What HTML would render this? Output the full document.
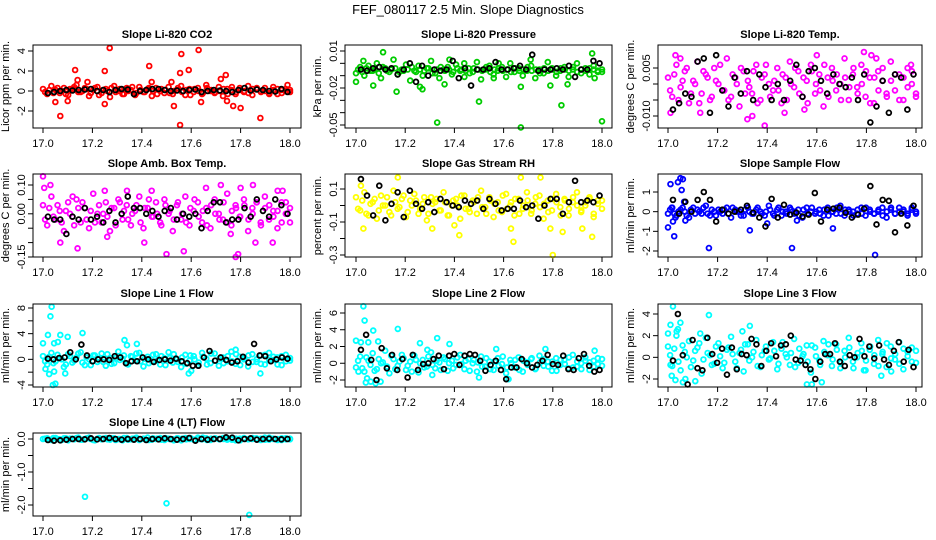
<!DOCTYPE html>
<html><head><meta charset="utf-8">
<style>
html,body{margin:0;padding:0;background:#fff;}
svg{display:block;font-family:"Liberation Sans",sans-serif;}
</style></head>
<body>
<svg id="chart" width="936" height="540" viewBox="0 0 936 540">
<text x="468" y="14" text-anchor="middle" font-size="13">FEF_080117  2.5 Min. Slope Diagnostics</text>
</svg>
<script>
// ---------- data ----------
const co2Band=[0.2,-0.3,0.5,0.1,-0.2,0.3,-0.4,0.2,0.6,-0.1,0.3,-0.5,0.1,0.4,-0.2,0.2,-0.6,0.5,0.0,-0.3,0.3,0.1,-0.4,0.4,-0.1,0.2,-0.5,0.3,0.0,-0.2,0.4,-0.3,0.1,0.5,-0.4,0.2,-0.1,0.3,-0.3,0.6,0.0,-0.2,0.4,-0.5,0.2,0.1,-0.3,0.3,-0.1,0.5,-0.4,0.2,0.0,0.3,-0.2,0.4,-0.3,0.1,0.2,-0.1];
const co2Band2=[-0.1,0.1,-0.2,0.3,0.0,-0.3,0.2,0.4,-0.1,0.0,0.2,-0.2,0.3,-0.4,0.1,0.0,0.3,-0.1,0.2,-0.3,0.0,0.4,-0.2,0.1,-0.1,0.3,0.0,-0.3,0.2,0.1,-0.2,0.0,0.3,-0.1,0.1,-0.4,0.2,0.0,-0.2,0.3,0.1,-0.1,0.0,0.2,-0.3,0.4,-0.1,0.1,0.0,-0.2,0.2,0.3,-0.1,0.0,-0.3,0.1,0.2,-0.2,0.0,0.1];
const co2OutX=[17.05,17.07,17.10,17.13,17.14,17.18,17.25,17.25,17.27,17.43,17.44,17.52,17.53,17.555,17.555,17.56,17.59,17.63,17.64,17.72,17.74,17.745,17.77,17.80,17.88,17.99];
const co2OutY=[-1.1,-2.5,-1.0,2.1,1.1,0.9,2.0,-1.3,4.3,2.5,0.9,0.9,-1.5,-3.4,1.8,3.7,2.1,4.1,-1.1,1.2,1.6,-1.0,-1.5,-1.7,-2.7,0.6];
const co2Black=[-0.2,-0.1,0,0.1,0.05,0.1,0.15,0.2,0,0.1,-0.1,0.1,0.2,0.15,-0.3,0,0.1,0.2,0.2,0.1,0,0.05,0,0.1,0.15,-0.1,0,0.1,0.05,0,-0.1,0.1,0.3,0.05,0.15,0.1,0,-0.05,0.2,-0.1];

const presBand=[-0.008,-0.003,-0.010,-0.002,-0.006,0.000,-0.012,-0.004,-0.007,0.003,-0.009,-0.005,-0.001,-0.014,-0.006,-0.002,-0.010,-0.004,0.002,-0.008,-0.012,-0.005,-0.003,-0.009,-0.001,-0.006,-0.011,-0.004,-0.007,0.001,-0.013,-0.005,-0.002,-0.009,-0.006,-0.003,-0.011,0.000,-0.007,-0.004,-0.010,-0.006,-0.002,-0.012,-0.005,-0.008,0.001,-0.004,-0.010,-0.006,-0.003,-0.011,-0.005,0.000,-0.008,-0.004,-0.009,-0.002,-0.006,-0.007];
const presBand2=[-0.005,-0.007,-0.004,-0.006,-0.005,-0.008,-0.003,-0.006,-0.005,-0.004,-0.007,-0.006,-0.005,-0.003,-0.007,-0.005,-0.006,-0.004,-0.008,-0.005,-0.003,-0.006,-0.005,-0.007,-0.004,-0.005,-0.006,-0.008,-0.004,-0.005,-0.006,-0.003,-0.007,-0.005,-0.004,-0.006,-0.005,-0.007,-0.004,-0.006,-0.005,-0.003,-0.006,-0.005,-0.008,-0.004,-0.006,-0.005,-0.007,-0.004,-0.005,-0.006,-0.003,-0.007,-0.005,-0.006,-0.004,-0.005,-0.007,-0.005];
const presOutX=[17.0,17.03,17.07,17.11,17.165,17.26,17.27,17.33,17.36,17.38,17.44,17.50,17.56,17.58,17.67,17.67,17.71,17.79,17.835,17.86,17.96,17.97,18.0];
const presOutY=[-0.015,0.002,-0.018,0.009,-0.023,-0.019,-0.021,-0.048,-0.017,0.003,0.0,-0.031,-0.012,0.0,-0.052,-0.019,0.003,-0.018,-0.034,-0.017,0.008,-0.012,-0.047];
const presBlack=[-0.005,-0.006,-0.004,-0.003,-0.005,-0.004,-0.009,-0.005,0.000,-0.015,-0.002,-0.010,-0.005,-0.006,-0.005,0.002,-0.012,-0.004,-0.018,-0.005,-0.005,-0.004,0.001,-0.005,-0.005,-0.004,-0.002,-0.005,0.007,-0.006,-0.005,-0.005,-0.004,-0.005,-0.002,-0.011,-0.005,-0.005,0.002,0.000];

const tempBand=[0.002,-0.004,0.006,-0.001,0.004,-0.006,0.001,0.007,-0.003,0.003,-0.005,0.005,0.000,-0.002,0.008,-0.004,0.002,-0.007,0.004,0.001,-0.003,0.006,-0.005,0.003,0.000,-0.002,0.005,-0.006,0.002,0.007,-0.001,0.004,-0.004,0.001,0.006,-0.003,0.003,-0.007,0.002,0.005,-0.002,0.000,0.008,-0.005,0.003,-0.001,0.006,-0.004,0.002,-0.006,0.004,0.001,-0.003,0.007,-0.002,0.003,-0.005,0.005,0.000,-0.004];
const tempBand2=[-0.002,0.003,-0.005,0.001,0.005,-0.003,0.000,-0.006,0.004,0.002,-0.004,0.001,0.006,-0.002,-0.005,0.003,0.000,0.005,-0.003,-0.001,0.004,-0.006,0.002,0.006,-0.004,0.001,-0.002,0.003,-0.005,0.000,0.005,-0.003,0.002,-0.006,0.004,0.000,-0.002,0.006,-0.004,0.001,0.003,-0.005,0.002,-0.001,0.005,-0.003,0.000,0.004,-0.006,0.002,-0.002,0.005,-0.004,0.001,0.003,-0.005,0.002,-0.001,0.004,-0.003];
const tempOutX=[17.01,17.03,17.05,17.13,17.32,17.34,17.39,17.47,17.55,17.6,17.79,17.82,17.84,17.98];
const tempOutY=[-0.009,0.009,0.008,-0.009,-0.011,-0.010,-0.013,-0.009,-0.008,0.009,0.010,0.009,0.008,0.006];
const tempBlack=[-0.008,-0.006,-0.003,-0.004,0.007,0.008,-0.009,0.009,-0.002,-0.007,0.002,-0.003,0.004,-0.005,0.003,-0.001,-0.005,0.000,-0.005,0.001,0.006,-0.004,0.004,0.005,0.001,-0.003,0.003,0.000,-0.001,0.002,-0.005,0.003,-0.012,-0.007,0.001,-0.009,0.003,0.002,-0.008,0.003];

const ambBand=[0.03,-0.04,0.06,-0.02,0.01,-0.06,0.04,-0.01,0.05,-0.03,0.02,-0.05,0.07,0.00,-0.03,0.04,-0.06,0.02,0.05,-0.02,0.03,-0.04,0.01,0.06,-0.05,0.02,-0.01,0.04,-0.03,0.05,0.00,-0.06,0.03,-0.02,0.06,-0.04,0.01,0.04,-0.03,0.02,-0.05,0.05,0.00,-0.02,0.07,-0.04,0.03,-0.01,0.05,-0.06,0.02,0.04,-0.03,0.06,-0.02,0.01,-0.05,0.04,0.00,-0.03];
const ambBand2=[-0.02,0.02,-0.01,0.03,-0.03,0.01,0.00,-0.04,0.02,0.04,-0.02,0.01,-0.03,0.03,0.00,-0.01,0.02,-0.04,0.04,0.01,-0.02,0.00,0.03,-0.03,0.02,0.05,-0.01,0.00,-0.04,0.03,0.01,-0.02,0.04,0.00,-0.03,0.02,0.05,-0.01,0.01,-0.04,0.03,0.00,-0.02,0.04,-0.03,0.01,0.02,-0.01,0.03,-0.02,0.00,0.04,-0.04,0.02,0.03,-0.01,0.01,-0.03,0.04,0.02];
const ambOutX=[17.0,17.005,17.03,17.07,17.12,17.14,17.25,17.26,17.34,17.41,17.44,17.5,17.57,17.66,17.72,17.76,17.78,17.79,17.8,17.85,17.86,17.93,17.95,17.97];
const ambOutY=[0.13,0.09,0.10,-0.10,0.06,-0.12,0.08,-0.08,0.08,-0.10,0.08,-0.14,-0.13,0.09,0.10,-0.07,-0.15,-0.14,0.09,0.10,-0.10,-0.10,0.08,0.08];
const ambBlack=[-0.01,-0.02,-0.02,-0.07,-0.01,-0.02,0.02,-0.02,-0.01,-0.03,0.01,-0.03,0.00,0.06,0.02,0.02,0.00,0.01,-0.01,0.01,0.02,-0.02,0.00,-0.01,0.00,-0.05,0.01,0.04,0.04,-0.03,-0.02,-0.02,0.02,-0.01,0.05,0.01,-0.01,0.05,0.03,0.00];

const rhBand=[0.05,-0.03,0.08,-0.06,0.02,-0.08,0.06,0.00,-0.04,0.09,-0.02,0.04,-0.07,0.03,0.07,-0.05,0.01,-0.09,0.05,0.02,-0.03,0.08,-0.06,0.00,0.04,-0.08,0.06,-0.02,0.03,-0.05,0.09,-0.01,0.05,-0.07,0.02,-0.04,0.07,0.00,-0.06,0.04,-0.02,0.08,-0.05,0.01,0.06,-0.08,0.03,-0.03,0.07,-0.01,0.04,-0.06,0.02,0.08,-0.04,0.00,0.05,-0.07,0.03,-0.02];
const rhBand2=[-0.02,0.03,-0.05,0.01,0.04,-0.03,0.00,0.05,-0.06,0.02,-0.01,0.06,-0.04,0.00,0.03,-0.02,0.05,-0.05,0.01,0.04,-0.03,0.02,-0.06,0.03,0.00,0.06,-0.02,-0.04,0.02,0.05,-0.01,-0.05,0.03,0.01,-0.03,0.06,-0.02,0.02,0.04,-0.05,0.00,0.03,-0.03,0.05,-0.01,0.01,-0.04,0.04,0.02,-0.06,0.03,-0.02,0.05,0.00,-0.03,0.02,0.04,-0.05,0.01,0.03];
const rhOutX=[17.02,17.03,17.17,17.31,17.4,17.42,17.63,17.64,17.67,17.75,17.79,17.80,17.84,17.92,17.96];
const rhOutY=[0.12,-0.14,0.17,-0.14,-0.12,-0.18,-0.14,-0.22,0.17,0.17,-0.14,-0.30,-0.16,-0.14,-0.19];
const rhBlack=[0.16,0.06,-0.06,0.12,-0.09,0.01,0.08,-0.07,0.09,0.01,-0.02,0.02,-0.04,0.04,0.02,0.0,-0.01,0.03,0.01,0.03,-0.02,0.04,0.01,-0.03,-0.02,-0.02,0.03,-0.01,0.0,-0.08,0.0,0.04,0.04,-0.05,0.02,0.15,0.02,0.03,0.02,0.06];

const sfBand=[-0.1,0.2,-0.2,0.1,0.0,-0.3,0.2,0.1,-0.1,0.3,-0.2,0.0,0.1,-0.1,0.2,-0.3,0.1,0.0,-0.2,0.2,-0.1,0.1,0.0,-0.2,0.3,-0.1,0.1,-0.2,0.0,0.2,-0.1,0.1,-0.3,0.2,0.0,-0.1,0.1,-0.2,0.2,0.0,-0.1,0.3,-0.2,0.1,0.0,-0.1,0.2,-0.2,0.1,-0.1,0.0,0.2,-0.3,0.1,-0.1,0.2,0.0,-0.2,0.1,0.0];
const sfBand2=[0.1,-0.1,0.0,0.2,-0.2,0.1,-0.1,0.0,0.2,-0.1,0.1,-0.2,0.0,0.1,-0.1,0.2,0.0,-0.2,0.1,0.0,-0.1,0.2,-0.1,0.0,0.1,-0.2,0.2,0.0,-0.1,0.1,0.0,-0.2,0.1,-0.1,0.2,0.0,-0.1,0.1,-0.2,0.0,0.2,-0.1,0.1,0.0,-0.2,0.1,-0.1,0.2,0.0,-0.1,0.1,-0.2,0.0,0.2,-0.1,0.0,0.1,-0.1,0.2,-0.1];
const sfOutX=[17.0,17.01,17.015,17.02,17.025,17.03,17.04,17.05,17.055,17.06,17.065,17.07,17.165,17.33,17.4,17.5,17.52,17.665,17.835];
const sfOutY=[-0.8,1.4,0.2,-0.5,-1.25,-0.3,1.5,1.7,1.1,1.65,0.5,-0.45,-1.85,-0.95,-0.6,-1.85,-0.45,-0.85,-2.2];
const sfBlack=[0.6,-0.1,0.5,0.0,0.6,1.0,0.6,-0.5,0.1,-0.1,0.0,0.1,0.3,-0.05,-0.3,-0.75,0.65,-0.3,0.35,-0.15,-0.05,-0.25,-0.15,0.95,-0.5,0.1,0.15,0.2,-0.05,-0.3,-0.15,0.15,1.3,-0.65,0.6,0.55,-1.05,-0.1,-0.7,0.3];

const l1Band=[0.5,-0.8,1.0,-0.3,0.2,-1.2,0.8,-0.5,0.3,1.1,-0.9,0.0,0.6,-0.4,0.9,-1.0,0.2,-0.6,1.2,0.1,-0.7,0.5,-0.2,1.0,-1.1,0.4,-0.3,0.8,-0.8,0.2,1.1,-0.5,0.0,-1.2,0.7,-0.2,0.5,-0.9,1.0,0.1,-0.6,0.9,-1.0,0.3,-0.3,1.2,-0.7,0.4,0.0,-1.1,0.8,-0.4,0.6,-0.8,1.0,-0.1,0.3,-0.9,0.7,-0.2];
const l1Band2=[-0.3,0.4,-0.6,0.7,0.0,-0.8,0.5,-0.2,0.9,-0.5,0.3,-0.9,0.6,0.1,-0.4,0.8,-0.7,0.2,-0.1,0.6,-0.8,0.4,0.9,-0.3,0.1,-0.6,0.7,-0.2,0.5,-0.9,0.2,0.8,-0.4,0.3,-0.7,0.6,0.0,-0.5,0.4,-0.8,0.9,-0.2,0.1,-0.6,0.5,-0.3,0.8,-0.9,0.2,0.6,-0.4,0.0,-0.7,0.7,-0.1,0.4,-0.8,0.5,-0.3,0.2];
const l1OutX=[17.0,17.01,17.02,17.025,17.03,17.035,17.04,17.045,17.045,17.05,17.06,17.07,17.09,17.1,17.16,17.33,17.34,17.38,17.59,17.6,17.78,17.88];
const l1OutY=[2.5,-1.5,3.8,-2.3,6.7,8.2,-4.0,2.5,-1.9,-3.8,2.7,3.8,-2.2,3.5,4.1,3.0,2.2,2.4,-2.2,-1.8,1.5,-2.2];
const l1Black=[0.1,0.0,0.2,0.3,1.1,0.0,2.3,0.6,-0.3,0.0,0.0,-0.1,0.5,0.3,-0.6,-0.3,-0.3,0.3,0.0,-0.4,-0.1,0.0,-0.2,0.1,-0.3,-0.6,-1.0,-1.0,0.3,1.3,-0.2,0.3,-0.1,-0.5,-0.3,0.4,-0.5,2.4,0.6,0.5,-0.3,0.0,0.3,0.1];

const l2Band=[-0.5,0.8,-1.0,0.3,1.2,-0.7,0.0,1.5,-1.2,0.5,-0.3,1.0,-0.8,0.2,0.9,-1.1,0.4,-0.4,1.3,-0.6,0.1,0.7,-0.9,0.3,-0.2,1.0,-0.7,0.5,0.0,-1.0,0.8,-0.4,0.2,-0.8,0.6,-0.1,-1.2,0.4,-0.5,0.7,-1.0,0.1,0.5,-0.7,0.9,-0.3,0.2,-0.9,0.6,-0.2,0.4,-0.6,1.0,-0.4,0.0,0.7,-0.8,0.3,-0.1,0.5];
const l2Band2=[0.3,-0.6,0.7,-0.2,-0.9,0.5,0.1,-0.4,0.9,-0.7,0.2,0.6,-0.3,-1.0,0.4,0.0,-0.5,0.8,-0.2,0.3,-0.8,0.5,0.0,-0.6,0.7,-0.1,0.3,-0.9,0.4,0.1,-0.4,0.6,-0.7,0.2,-0.3,0.8,-0.5,0.0,0.4,-0.8,0.3,-0.2,0.6,-0.6,0.1,0.5,-0.4,0.2,-0.9,0.4,-0.1,0.7,-0.5,0.2,-0.7,0.3,0.1,-0.4,0.6,-0.3];
const l2OutX=[17.0,17.01,17.02,17.03,17.035,17.04,17.045,17.05,17.06,17.07,17.08,17.09,17.1,17.17,17.26,17.29,17.31,17.33,17.38,17.5,17.57,17.62,17.77,17.97];
const l2OutY=[2.7,-1.0,2.5,6.8,5.1,-2.3,-1.8,2.5,-2.2,3.9,-2.4,2.6,-2.2,4.1,2.4,1.6,-1.4,3.0,2.3,-1.7,1.7,-1.9,1.7,1.5];
const l2Black=[1.6,3.4,0.4,-2.0,1.8,-0.6,1.0,-0.8,0.5,-1.7,1.0,-0.8,-0.1,0.0,0.5,0.9,-0.7,0.9,1.1,-0.2,0.9,1.1,1.0,0.3,-0.9,-0.2,0.3,-0.8,-1.9,-0.5,-0.5,0.5,0.0,-0.5,-0.2,0.3,1.0,-0.1,-0.2,0.9,-0.7,-0.8,0.6,1.1,-0.3,-1.0,-0.8];

const l3Band=[1.0,-0.8,2.0,-1.2,0.5,1.5,-0.3,0.9,-1.5,1.8,0.2,-0.6,1.3,-1.0,0.7,1.9,-0.4,0.4,-1.3,1.2,0.0,1.6,-0.9,0.6,-0.2,1.4,-1.1,0.8,0.3,-0.7,1.7,-0.5,0.1,1.1,-1.4,0.9,-0.3,1.5,0.2,-0.8,1.2,-1.0,0.6,1.8,-0.4,0.0,1.3,-1.2,0.7,-0.6,1.6,0.3,-0.9,1.0,-0.2,1.4,-1.1,0.5,0.9,-0.5];
const l3Band2=[0.2,0.8,-0.4,1.1,0.0,-0.9,0.6,1.3,-0.2,0.4,-0.7,1.0,0.1,-0.5,0.9,0.3,-1.0,0.7,1.2,-0.3,0.5,-0.8,0.2,1.0,-0.1,0.6,-0.6,1.4,0.0,0.4,-0.9,0.8,0.3,-0.4,1.1,0.1,-0.7,0.5,1.2,-0.2,0.7,-0.5,0.0,0.9,-1.0,0.4,0.6,-0.3,1.0,0.2,-0.8,0.5,1.3,-0.1,0.3,-0.6,0.8,0.1,-0.4,0.6];
const l3OutX=[17.0,17.01,17.01,17.015,17.02,17.03,17.035,17.04,17.05,17.06,17.07,17.11,17.13,17.165,17.3,17.33,17.56,17.58,17.62,17.79,17.86,17.9];
const l3OutY=[2.2,3.0,-0.7,-1.7,4.7,-2.1,2.4,2.6,3.2,-2.3,-2.0,-2.2,2.2,3.9,2.4,2.9,-2.5,-2.5,-2.3,-1.2,-1.7,-1.3];
const l3Black=[-0.3,4.0,0.2,-2.5,1.6,-1.0,-1.2,1.8,0.3,-0.5,0.8,-1.6,0.9,-1.1,0.3,0.2,1.7,1.2,-0.8,0.6,1.3,0.1,1.1,1.2,2.0,-0.2,-0.3,-0.7,-1.1,-2.0,-0.4,0.3,0.3,1.3,-0.4,-0.8,0.2,0.0,1.7,0.1,1.0,-0.1,1.1,-0.2,-0.7,0.6,1.4,-0.4,0.7,-0.9];

const l4Band=[0.0,0.02,-0.03,0.03,-0.01,0.02,-0.04,0.01,0.03,-0.02,0.0,0.04,-0.03,0.01,-0.01,0.03,-0.02,0.02,0.0,-0.04,0.03,-0.01,0.02,-0.03,0.01,0.04,-0.02,0.0,0.03,-0.03,0.01,-0.01,0.02,-0.04,0.03,0.0,-0.02,0.04,-0.01,0.02,-0.03,0.01,0.0,0.03,-0.02,0.02,-0.04,0.01,0.03,-0.01,0.0,0.02,-0.03,0.04,-0.02,0.01,0.0,-0.03,0.02,-0.01];
const l4Band2=[0.01,-0.02,0.03,0.0,-0.03,0.02,0.01,-0.01,0.04,-0.02,0.02,0.0,-0.04,0.03,0.01,-0.01,0.02,-0.03,0.0,0.03,-0.02,0.01,0.04,-0.01,0.0,-0.03,0.02,0.01,-0.02,0.03,0.0,-0.04,0.02,0.01,-0.01,0.03,-0.02,0.0,0.04,-0.03,0.01,0.02,-0.01,0.0,0.03,-0.02,0.01,-0.04,0.02,0.0,0.03,-0.01,0.01,-0.02,0.04,0.0,-0.03,0.02,-0.01,0.01];
const l4OutX=[17.17,17.5,17.835];
const l4OutY=[-1.75,-1.95,-2.3];
const l4Black=[-0.03,-0.05,-0.04,-0.02,0.0,0.0,-0.01,0.02,-0.01,0.0,0.03,0.0,-0.02,0.0,-0.02,0.0,-0.03,0.0,-0.01,0.02,0.0,-0.02,0.0,0.03,-0.05,0.0,-0.02,0.0,0.0,0.05,0.04,-0.04,0.0,0.02,-0.02,0.0,0.01,0.0,-0.01,0.0];

const xTicks=[17.0,17.2,17.4,17.6,17.8,18.0];
const xTickLabels=["17.0","17.2","17.4","17.6","17.8","18.0"];

// ---------- layout ----------
const NS="http://www.w3.org/2000/svg";
const svg=document.getElementById('chart');
function mk(tag,attrs,parent){const e=document.createElementNS(NS,tag);for(const k in attrs)e.setAttribute(k,attrs[k]);(parent||svg).appendChild(e);return e;}
const cols=[{l:33,r:301,x0:43,x1:290},{l:345,r:612,x0:356,x1:602},{l:658,r:922,x0:668,x1:916}];
const rows=[{t:45,b:128},{t:174,b:257},{t:304,b:387},{t:433,b:516}];

const panels=[
 {name:"co2",title:"Slope Li-820 CO2",ylab:"Licor ppm per min.",c:0,r:0,color:"#ff0000",bands:[co2Band,co2Band2],ox:co2OutX,oy:co2OutY,blk:co2Black,v0:4,p0:51,v1:-2,p1:111,ticks:[4,2,0,-2],labels:["4","2","0","-2"]},
 {name:"pressure",title:"Slope Li-820 Pressure",ylab:"kPa per min.",c:1,r:0,color:"#00cc00",bands:[presBand,presBand2],ox:presOutX,oy:presOutY,blk:presBlack,v0:0.01,p0:51,v1:-0.05,p1:125,ticks:[0.01,0,-0.01,-0.02,-0.03,-0.04,-0.05],labels:["0.01","","","-0.02","","","-0.05"]},
 {name:"temp",title:"Slope Li-820 Temp.",ylab:"degrees C per min.",c:2,r:0,color:"#ff00ff",bands:[tempBand,tempBand2],ox:tempOutX,oy:tempOutY,blk:tempBlack,v0:0.005,p0:68,v1:-0.010,p1:116,ticks:[0.005,0,-0.005,-0.010],labels:["0.005","","","-0.010"]},
 {name:"amb-box-temp",title:"Slope Amb. Box Temp.",ylab:"degrees C per min.",c:0,r:1,color:"#ff00ff",bands:[ambBand,ambBand2],ox:ambOutX,oy:ambOutY,blk:ambBlack,v0:0.10,p0:185,v1:-0.15,p1:257,ticks:[0.10,0.05,0,-0.05,-0.10,-0.15],labels:["0.10","","0.00","","","-0.15"]},
 {name:"gas-stream-rh",title:"Slope Gas Stream RH",ylab:"percent per min.",c:1,r:1,color:"#ffff00",bands:[rhBand,rhBand2],ox:rhOutX,oy:rhOutY,blk:rhBlack,v0:0.1,p0:189,v1:-0.3,p1:255,ticks:[0.1,0,-0.1,-0.2,-0.3],labels:["0.1","","-0.1","","-0.3"]},
 {name:"sample-flow",title:"Slope Sample Flow",ylab:"ml/min per min.",c:2,r:1,color:"#0000ff",bands:[sfBand,sfBand2],ox:sfOutX,oy:sfOutY,blk:sfBlack,v0:1,p0:192,v1:-2,p1:251,ticks:[1,0,-1,-2],labels:["1","0","-1","-2"]},
 {name:"line1-flow",title:"Slope Line 1 Flow",ylab:"ml/min per min.",c:0,r:2,color:"#00ffff",bands:[l1Band,l1Band2],ox:l1OutX,oy:l1OutY,blk:l1Black,v0:8,p0:308,v1:-4,p1:385,ticks:[8,6,4,2,0,-2,-4],labels:["8","","4","","0","","-4"]},
 {name:"line2-flow",title:"Slope Line 2 Flow",ylab:"ml/min per min.",c:1,r:2,color:"#00ffff",bands:[l2Band,l2Band2],ox:l2OutX,oy:l2OutY,blk:l2Black,v0:6,p0:313,v1:-2,p1:380,ticks:[6,4,2,0,-2],labels:["6","4","2","0","-2"]},
 {name:"line3-flow",title:"Slope Line 3 Flow",ylab:"ml/min per min.",c:2,r:2,color:"#00ffff",bands:[l3Band,l3Band2],ox:l3OutX,oy:l3OutY,blk:l3Black,v0:4,p0:314,v1:-2,p1:379,ticks:[4,2,0,-2],labels:["4","2","0","-2"]},
 {name:"line4-flow",title:"Slope Line 4 (LT) Flow",ylab:"ml/min per min.",c:0,r:3,color:"#00ffff",bands:[l4Band,l4Band2],ox:l4OutX,oy:l4OutY,blk:l4Black,v0:0,p0:439,v1:-2,p1:505,ticks:[0,-0.5,-1,-1.5,-2],labels:["0.0","","-1.0","","-2.0"]}
];

panels.forEach(p=>{
  const C=cols[p.c],R=rows[p.r];
  const g=mk('g',{});
  
  
  const xs=v=>C.x0+(v-17)*(C.x1-C.x0);
  const ys=v=>p.p0+(v-p.v0)*(p.p1-p.p0)/(p.v1-p.v0);
  const t=mk('text',{x:(C.l+C.r)/2,y:R.t-7,'text-anchor':'middle','font-size':11,'font-weight':'bold'},g);
  t.textContent=p.title;
  
  
  // x axis
  const xa=mk('g',{},g);
  
  
  xTicks.forEach((v,i)=>{
    mk('line',{x1:xs(v),x2:xs(v),y1:R.b,y2:R.b+5,stroke:'#000'},xa);
    const lt=mk('text',{x:xs(v),y:R.b+19,'text-anchor':'middle','font-size':11},xa);
    lt.textContent=xTickLabels[i];
    
    
  });
  // y axis
  const ya=mk('g',{},g);
  
  
  p.ticks.forEach((v,i)=>{
    const y=ys(v);
    mk('line',{x1:C.l-5,x2:C.l,y1:y,y2:y,stroke:'#000'},ya);
    if(p.labels[i]){
      const lt=mk('text',{x:C.l-8,y:y,'text-anchor':'middle','font-size':11,transform:`rotate(-90 ${C.l-8} ${y})`},ya);
      lt.textContent=p.labels[i];
      
      
    }
  });
  const yt=mk('text',{x:C.l-24,y:(R.t+R.b)/2,'text-anchor':'middle','font-size':11,transform:`rotate(-90 ${C.l-24} ${(R.t+R.b)/2})`},g);
  yt.textContent=p.ylab;
  
  
  // colored points
  const cg=mk('g',{fill:'none',stroke:p.color,'stroke-width':1.8},g);
  
  
  p.bands.forEach((band,bi)=>{
    const n=band.length;
    const off=bi*0.5/(n-1);
    band.forEach((v,i)=>{
      const c=mk('circle',{cx:xs(17+off+i/(n-1)*(1-off)),cy:ys(v),r:2.4},cg);
      
      
    });
  });
  p.ox.forEach((xv,i)=>{
    const c=mk('circle',{cx:xs(xv),cy:ys(p.oy[i]),r:2.4},cg);
    
    
  });
  // black points
  const bg=mk('g',{fill:'none',stroke:'#000','stroke-width':1.8},g);
  
  
  const m=p.blk.length;
  p.blk.forEach((v,i)=>{
    const c=mk('circle',{cx:xs(17.02+0.97*i/(m-1)),cy:ys(v),r:2.4},bg);
    
    
  });
  const box=mk('rect',{x:C.l,y:R.t,width:C.r-C.l,height:R.b-R.t,fill:'none',stroke:'#000','stroke-width':1},g);
  
  
});
</script>
</body></html>
